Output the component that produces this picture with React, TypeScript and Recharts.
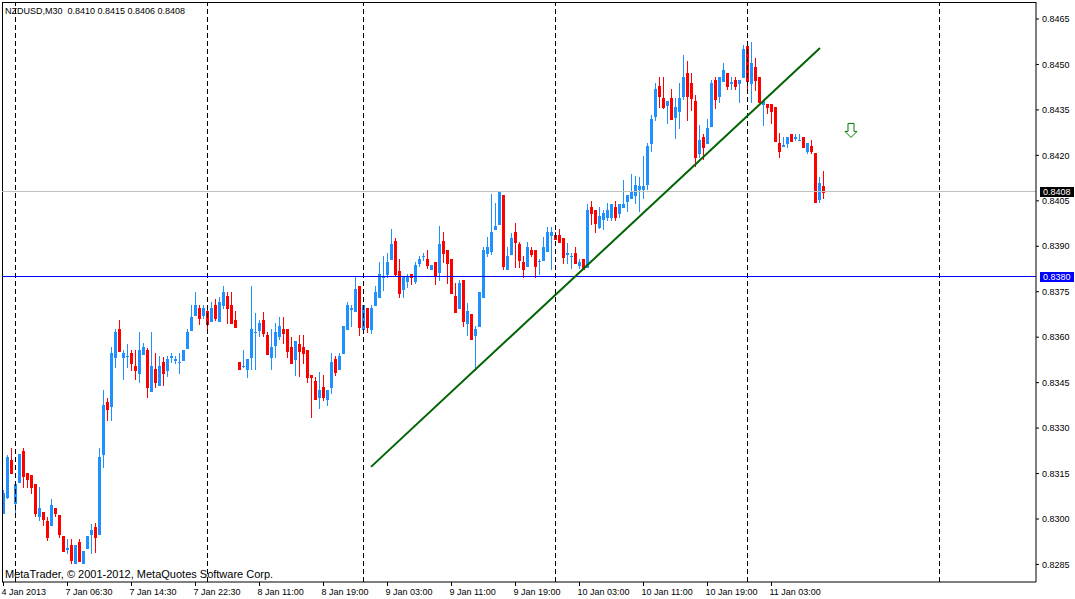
import React from "react";
import {
  ComposedChart,
  Bar,
  XAxis,
  YAxis,
  ReferenceLine,
  ReferenceDot,
} from "recharts";

const chartTitle = "NZDUSD,M30  0.8410 0.8415 0.8406 0.8408";
const copyright = "MetaTrader, \u00A9 2001-2012, MetaQuotes Software Corp.";

const opens = [
  0.83021, 0.83074, 0.83195, 0.83054, 0.83123, 0.83225, 0.83153, 0.83145, 0.83115, 0.8301,
  0.83023, 0.82994, 0.82981, 0.83036, 0.83013, 0.82944, 0.82902, 0.82915, 0.82854, 0.82924,
  0.82854, 0.82903, 0.82951, 0.82973, 0.82951, 0.83215, 0.83386, 0.83373, 0.83536, 0.83627,
  0.83536, 0.83537, 0.83547, 0.83505, 0.83483, 0.83545, 0.83558, 0.83423, 0.83496, 0.83443,
  0.83518, 0.83492, 0.83536, 0.83526, 0.83517, 0.83525, 0.83564, 0.83624, 0.83674, 0.83696,
  0.83674, 0.83686, 0.83654, 0.83706, 0.83654, 0.83706, 0.83736, 0.83706, 0.83657, 0.83518,
  0.83504, 0.83494, 0.83536, 0.83616, 0.83624, 0.83657, 0.83607, 0.83536, 0.83574, 0.83604,
  0.83626, 0.83626, 0.83569, 0.83527, 0.83578, 0.83569, 0.83558, 0.83474, 0.83454, 0.83404,
  0.83435, 0.83395, 0.83435, 0.83527, 0.83494, 0.83547, 0.83626, 0.83694, 0.83685, 0.83769,
  0.83626, 0.83696, 0.83626, 0.83706, 0.83734, 0.83798, 0.83809, 0.83857, 0.83918, 0.83818,
  0.83758, 0.83786, 0.83809, 0.83786, 0.83846, 0.83867, 0.83858, 0.83826, 0.83848, 0.83816,
  0.83918, 0.83888, 0.83858, 0.83736, 0.83695, 0.83789, 0.83646, 0.83676, 0.83606, 0.83637,
  0.83734, 0.83877, 0.83885, 0.83956, 0.83974, 0.84069, 0.83826, 0.83875, 0.83948, 0.83908,
  0.83849, 0.83835, 0.83888, 0.83888, 0.8385, 0.83855, 0.83885, 0.83937, 0.83937, 0.83937,
  0.83926, 0.83876, 0.83867, 0.83879, 0.83838, 0.83857, 0.83831, 0.84031, 0.8402, 0.83965,
  0.83989, 0.83997, 0.83998, 0.84031, 0.84009, 0.84029, 0.84048, 0.84058, 0.84068, 0.84089,
  0.84089, 0.84106, 0.8424, 0.8433, 0.84429, 0.8439, 0.84366, 0.84388, 0.84328, 0.84347,
  0.84396, 0.84471, 0.8444, 0.8438, 0.84207, 0.84259, 0.8424, 0.84297, 0.84449, 0.84396,
  0.84445, 0.84473, 0.84439, 0.84449, 0.84438, 0.84458, 0.84561, 0.84438, 0.84493, 0.84459,
  0.84369, 0.84369, 0.84369, 0.84359, 0.84242, 0.84232, 0.8424, 0.8427, 0.84258, 0.8425,
  0.84262, 0.84215, 0.84231, 0.84207, 0.84055, 0.841,
];

const highs = [
  0.83096, 0.83212, 0.83235, 0.83115, 0.83215, 0.83235, 0.83153, 0.83145, 0.83115, 0.83105,
  0.83023, 0.83007, 0.83066, 0.83036, 0.83013, 0.82944, 0.82935, 0.82934, 0.82914, 0.82934,
  0.82895, 0.82944, 0.82984, 0.82987, 0.83235, 0.83426, 0.83398, 0.83569, 0.83627, 0.83657,
  0.83558, 0.83578, 0.83558, 0.83558, 0.83618, 0.83581, 0.83565, 0.83617, 0.83549, 0.83538,
  0.83536, 0.83538, 0.83547, 0.83538, 0.83549, 0.83558, 0.83626, 0.83706, 0.83749, 0.83706,
  0.83706, 0.83706, 0.83717, 0.83726, 0.83734, 0.83769, 0.83749, 0.83749, 0.83686, 0.83518,
  0.83558, 0.83527, 0.83769, 0.83679, 0.83657, 0.83684, 0.83617, 0.83626, 0.83648, 0.83668,
  0.83666, 0.83626, 0.83602, 0.83587, 0.83606, 0.83606, 0.83558, 0.83474, 0.8347, 0.83485,
  0.83474, 0.83426, 0.83547, 0.83538, 0.83549, 0.83637, 0.83716, 0.83706, 0.83799, 0.83769,
  0.83706, 0.83696, 0.83706, 0.83769, 0.83848, 0.83868, 0.83879, 0.83956, 0.83926, 0.83858,
  0.838, 0.83808, 0.83809, 0.83848, 0.83868, 0.83879, 0.83888, 0.83837, 0.83848, 0.83967,
  0.83947, 0.83888, 0.83858, 0.83778, 0.83789, 0.83789, 0.83712, 0.83676, 0.83637, 0.83749,
  0.83896, 0.8393, 0.84072, 0.84042, 0.8408, 0.84069, 0.83899, 0.83943, 0.83978, 0.83915,
  0.83868, 0.83915, 0.83899, 0.83888, 0.83859, 0.8393, 0.83963, 0.83963, 0.83948, 0.83956,
  0.83926, 0.8391, 0.83879, 0.83899, 0.83857, 0.83857, 0.8404, 0.8405, 0.8402, 0.84031,
  0.8402, 0.84042, 0.8404, 0.84048, 0.8404, 0.84119, 0.8407, 0.84138, 0.84132, 0.8413,
  0.84198, 0.84242, 0.84332, 0.8444, 0.84459, 0.84459, 0.84379, 0.8442, 0.84388, 0.8444,
  0.84531, 0.8451, 0.84473, 0.84399, 0.843, 0.8427, 0.84319, 0.84449, 0.84459, 0.84459,
  0.84504, 0.84473, 0.84459, 0.84459, 0.84449, 0.84563, 0.84574, 0.84574, 0.84521, 0.84459,
  0.8438, 0.84369, 0.84369, 0.84359, 0.84275, 0.84262, 0.84262, 0.8427, 0.8427, 0.8427,
  0.84262, 0.8424, 0.84251, 0.84207, 0.8413, 0.8415,
];

const lows = [
  0.8302, 0.83068, 0.83153, 0.83021, 0.83123, 0.83105, 0.83105, 0.83086, 0.8301, 0.82997,
  0.82981, 0.82931, 0.82981, 0.8301, 0.82941, 0.82893, 0.82887, 0.82854, 0.82854, 0.82862,
  0.82854, 0.82903, 0.82889, 0.82892, 0.82951, 0.83173, 0.83327, 0.83327, 0.83503, 0.83555,
  0.83463, 0.83503, 0.83492, 0.83463, 0.83453, 0.83545, 0.83404, 0.83423, 0.83437, 0.83443,
  0.83443, 0.83472, 0.83518, 0.83514, 0.83483, 0.83525, 0.83564, 0.83624, 0.83674, 0.83644,
  0.83664, 0.83626, 0.83654, 0.83657, 0.83654, 0.83696, 0.83646, 0.83646, 0.83635, 0.83494,
  0.83503, 0.83467, 0.83494, 0.83494, 0.83604, 0.83604, 0.83545, 0.83494, 0.83536, 0.83595,
  0.83582, 0.83536, 0.83516, 0.83474, 0.83472, 0.83514, 0.83453, 0.83338, 0.83395, 0.83365,
  0.83393, 0.83376, 0.83415, 0.83474, 0.83494, 0.83547, 0.83626, 0.83637, 0.83685, 0.83606,
  0.83624, 0.83617, 0.83615, 0.83706, 0.83734, 0.83756, 0.83798, 0.83857, 0.83805, 0.83734,
  0.83734, 0.83767, 0.83775, 0.83778, 0.83835, 0.83855, 0.83827, 0.83826, 0.83775, 0.83789,
  0.83848, 0.83778, 0.83747, 0.83684, 0.83695, 0.83637, 0.83606, 0.83595, 0.83492, 0.83637,
  0.83734, 0.83868, 0.83875, 0.83956, 0.83974, 0.83824, 0.83826, 0.83875, 0.83833, 0.83833,
  0.83798, 0.83835, 0.83868, 0.83798, 0.83809, 0.83855, 0.83885, 0.83824, 0.83925, 0.83915,
  0.83846, 0.83846, 0.83827, 0.83846, 0.83827, 0.83824, 0.83831, 0.83974, 0.83948, 0.83959,
  0.83956, 0.83987, 0.83987, 0.83987, 0.83998, 0.84029, 0.84017, 0.84058, 0.84042, 0.84017,
  0.84058, 0.84088, 0.84215, 0.84317, 0.84361, 0.84355, 0.84308, 0.84319, 0.84258, 0.84289,
  0.84385, 0.84317, 0.8435, 0.84165, 0.84196, 0.84187, 0.8424, 0.84297, 0.84355, 0.84377,
  0.84445, 0.84418, 0.84418, 0.84418, 0.84377, 0.84458, 0.84418, 0.84377, 0.84416, 0.84377,
  0.84299, 0.84341, 0.84308, 0.84248, 0.84196, 0.84232, 0.84229, 0.84248, 0.84251, 0.8425,
  0.84229, 0.84207, 0.84207, 0.84047, 0.84047, 0.8406,
];

const closes = [
  0.83085, 0.83206, 0.83153, 0.83115, 0.83215, 0.83142, 0.83131, 0.83105, 0.83021, 0.83036,
  0.82999, 0.82942, 0.83046, 0.83021, 0.82951, 0.82893, 0.82904, 0.82865, 0.82914, 0.82862,
  0.82895, 0.82944, 0.82964, 0.82942, 0.83206, 0.83376, 0.83363, 0.83548, 0.83616, 0.83555,
  0.83547, 0.83539, 0.83516, 0.83492, 0.83558, 0.83568, 0.83435, 0.83505, 0.83453, 0.83505,
  0.83483, 0.83529, 0.83538, 0.83528, 0.83519, 0.83558, 0.83618, 0.83668, 0.83706, 0.83664,
  0.83696, 0.83643, 0.83696, 0.83664, 0.83717, 0.83749, 0.83695, 0.83646, 0.83635, 0.83494,
  0.83506, 0.83527, 0.83626, 0.83618, 0.83648, 0.83615, 0.83545, 0.83567, 0.83617, 0.83637,
  0.83615, 0.83555, 0.83516, 0.83587, 0.83555, 0.83547, 0.83467, 0.83467, 0.83395, 0.83426,
  0.83404, 0.83426, 0.83518, 0.83485, 0.83538, 0.83637, 0.83706, 0.83696, 0.83758, 0.83635,
  0.83706, 0.83635, 0.83696, 0.83749, 0.83809, 0.83802, 0.83848, 0.83908, 0.83809, 0.83747,
  0.838, 0.838, 0.83798, 0.83837, 0.83858, 0.83869, 0.83838, 0.83837, 0.83806, 0.83908,
  0.83877, 0.83846, 0.83747, 0.83684, 0.83778, 0.83654, 0.83686, 0.83595, 0.83626, 0.83749,
  0.83888, 0.83899, 0.83948, 0.83967, 0.84079, 0.83835, 0.83868, 0.83926, 0.83915, 0.83855,
  0.83824, 0.83899, 0.83875, 0.83835, 0.83852, 0.83899, 0.83948, 0.83948, 0.83925, 0.83915,
  0.83866, 0.83878, 0.83869, 0.83846, 0.83849, 0.83824, 0.8402, 0.84009, 0.83976, 0.84,
  0.84011, 0.8402, 0.8404, 0.83998, 0.8404, 0.8404, 0.8407, 0.8408, 0.84101, 0.841,
  0.841, 0.84231, 0.84321, 0.8442, 0.84396, 0.84359, 0.84379, 0.84319, 0.84361, 0.8439,
  0.84459, 0.84396, 0.84388, 0.84196, 0.84251, 0.84229, 0.84289, 0.8444, 0.84387, 0.84459,
  0.84482, 0.84429, 0.84441, 0.84429, 0.84449, 0.84552, 0.84446, 0.84504, 0.84449, 0.84377,
  0.8438, 0.84359, 0.84347, 0.84248, 0.84215, 0.84234, 0.84262, 0.84248, 0.8426, 0.84252,
  0.84229, 0.8424, 0.84215, 0.84047, 0.84108, 0.8408,
];

const timeTickIndex = [0, 16, 32, 48, 64, 80, 96, 112, 128, 144, 160, 176, 192];
const timeTickLabels = [
  "4 Jan 2013",
  "7 Jan 06:30",
  "7 Jan 14:30",
  "7 Jan 22:30",
  "8 Jan 11:00",
  "8 Jan 19:00",
  "9 Jan 03:00",
  "9 Jan 11:00",
  "9 Jan 19:00",
  "10 Jan 03:00",
  "10 Jan 11:00",
  "10 Jan 19:00",
  "11 Jan 03:00",
];
const priceTicks = [
  0.8285, 0.83, 0.8315, 0.833, 0.8345, 0.836, 0.8375, 0.839, 0.8405, 0.842, 0.8435, 0.845,
  0.8465,
];
const daySeparators = [3, 51, 90, 138, 186, 234];
const supportLevel = 0.838;
const bidLevel = 0.8408;
const trendStart = { i: 91.875, price: 0.83172 };
const trendEnd = { i: 204.125, price: 0.84554 };
const arrowPoint = { i: 211.875, price: 0.84284 };

const X_DOMAIN: [number, number] = [-0.375, 258.125];
const Y_DOMAIN: [number, number] = [0.827921, 0.847061];

const FONT = "'Liberation Sans', Arial, sans-serif";
const BULL = "#1E90FF";
const BEAR = "#FF0000";

const data = opens.map((o, i) => ({
  i,
  o,
  h: highs[i],
  l: lows[i],
  c: closes[i],
  range: [lows[i], highs[i]],
}));

const Candle = (props: any) => {
  const { x, y, width, height, payload } = props;
  if (x == null || y == null || !payload) return null;
  const top = Math.min(y, y + height);
  const bot = Math.max(y, y + height);
  const { o, h, l, c } = payload;
  const span = h - l;
  const py = (p: number) => (span > 0 ? top + ((h - p) / span) * (bot - top) : top);
  const cx = x + width / 2;
  const px = Math.floor(cx);
  const color = c >= o ? BULL : BEAR;
  const yh = Math.round(py(h));
  const yl = Math.round(py(l));
  const yo = Math.round(py(o));
  const yc = Math.round(py(c));
  const bTop = Math.min(yo, yc);
  const bBot = Math.max(yo, yc);
  return (
    <g shapeRendering="crispEdges">
      <rect x={px} y={yh} width={1} height={Math.max(1, yl - yh + 1)} fill={color} />
      <rect x={px - 1} y={bTop} width={3} height={bBot - bTop + 1} fill={color} />
    </g>
  );
};

const TimeTick = (props: any) => {
  const { x, y, payload } = props;
  const idx = timeTickIndex.indexOf(payload.value);
  const label = idx >= 0 ? timeTickLabels[idx] : "";
  return (
    <text x={x - 2} y={y} dy={7} textAnchor="start" fontSize={9} fontFamily={FONT} fill="#000">
      {label}
    </text>
  );
};

const PriceTag = (props: any) => {
  const { viewBox, text, bg } = props;
  if (!viewBox) return null;
  const x = viewBox.x + viewBox.width + 4;
  const y = Math.round(viewBox.y);
  return (
    <g>
      <rect x={x} y={y - 5.5} width={34} height={10} fill={bg} shapeRendering="crispEdges" />
      <text x={x + 3} y={y + 3} fill="#fff" fontSize={9} fontFamily={FONT}>
        {text}
      </text>
    </g>
  );
};

const DownArrow = (props: any) => {
  const { cx, cy } = props;
  if (cx == null || cy == null) return null;
  const d = `M ${cx - 3} ${cy - 6.5} L ${cx + 3} ${cy - 6.5} L ${cx + 3} ${cy + 1.5} L ${cx + 6} ${cy + 1.5} L ${cx} ${cy + 7.5} L ${cx - 6} ${cy + 1.5} L ${cx - 3} ${cy + 1.5} Z`;
  return <path d={d} fill="none" stroke="#007800" strokeWidth={1} />;
};

export default function App() {
  return (
    <div
      style={{
        position: "absolute",
        left: 0,
        top: 0,
        width: 1075,
        height: 599,
        background: "#fff",
        overflow: "hidden",
      }}
    >
      <ComposedChart
        width={1075}
        height={599}
        data={data}
        margin={{ top: 2, right: 0, bottom: 0, left: 2 }}
      >
        <XAxis
          dataKey="i"
          type="number"
          domain={X_DOMAIN}
          allowDataOverflow
          ticks={timeTickIndex}
          interval={0}
          tick={<TimeTick />}
          tickSize={4}
          tickLine={{ stroke: "#000" }}
          axisLine={{ stroke: "#000" }}
          height={17}
        />
        <YAxis
          orientation="right"
          type="number"
          domain={Y_DOMAIN}
          allowDataOverflow
          ticks={priceTicks}
          interval={0}
          width={39}
          tickSize={3}
          tickMargin={3}
          tickFormatter={(v: number) => v.toFixed(4)}
          tick={{ fontSize: 9, fill: "#000", fontFamily: FONT }}
          tickLine={{ stroke: "#000" }}
          axisLine={{ stroke: "#000" }}
        />
        <ReferenceLine y={Y_DOMAIN[1]} stroke="#000" shapeRendering="crispEdges" />
        <ReferenceLine x={X_DOMAIN[0]} stroke="#000" shapeRendering="crispEdges" />
        {daySeparators.map((d) => (
          <ReferenceLine
            key={"sep" + d}
            x={d}
            stroke="#000"
            strokeDasharray="5 3"
            shapeRendering="crispEdges"
          />
        ))}
        <ReferenceLine
          y={bidLevel}
          stroke="#C0C0C0"
          shapeRendering="crispEdges"
          label={<PriceTag text={bidLevel.toFixed(4)} bg="#000" />}
        />
        <Bar
          dataKey="range"
          barSize={3}
          shape={<Candle />}
          isAnimationActive={false}
        />
        <ReferenceLine
          y={supportLevel}
          stroke="#0000FF"
          shapeRendering="crispEdges"
          label={<PriceTag text={supportLevel.toFixed(4)} bg="#0000FF" />}
        />
        <ReferenceLine
          segment={[
            { x: trendStart.i, y: trendStart.price },
            { x: trendEnd.i, y: trendEnd.price },
          ]}
          stroke="#006400"
          strokeWidth={2}
        />
        <ReferenceDot
          x={arrowPoint.i}
          y={arrowPoint.price}
          r={7}
          shape={<DownArrow />}
        />
      </ComposedChart>
      <svg
        width={1075}
        height={599}
        style={{ position: "absolute", left: 0, top: 0, pointerEvents: "none" }}
      >
        <text x={5} y={14} fontSize={9} fontFamily={FONT} fill="#000" style={{ whiteSpace: "pre" }}>
          {chartTitle}
        </text>
        <text x={5} y={577.5} fontSize={11} fontFamily={FONT} fill="#000">
          {copyright}
        </text>
      </svg>
    </div>
  );
}
